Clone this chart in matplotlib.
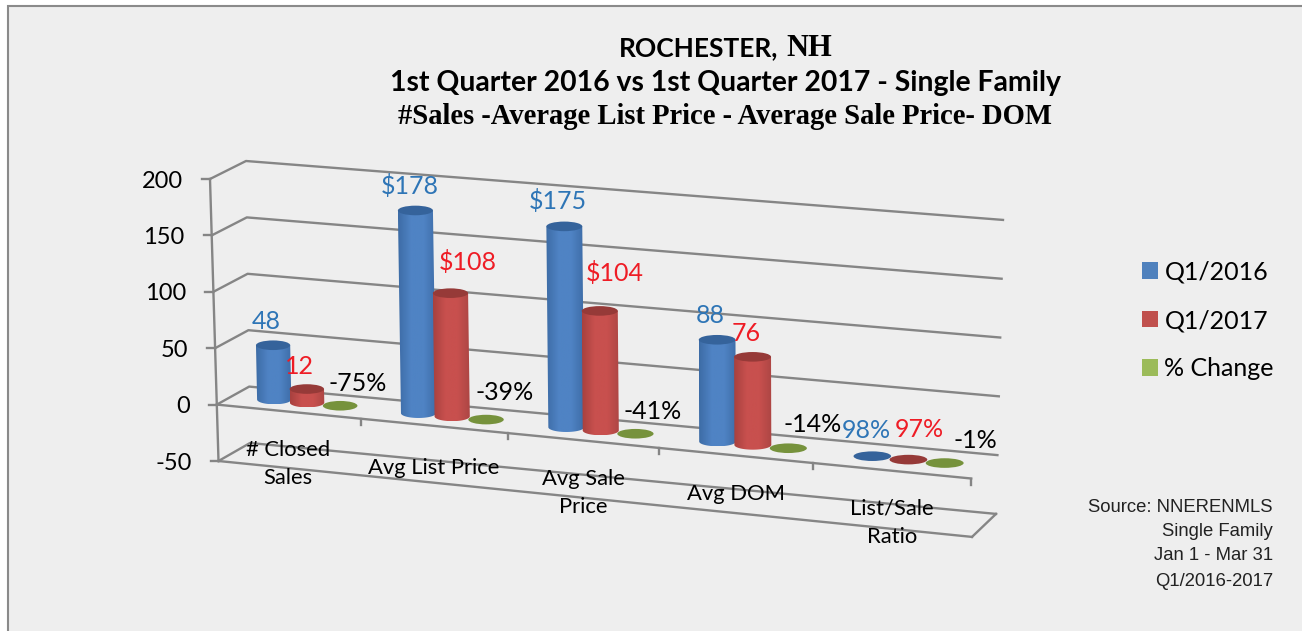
import numpy as np
import matplotlib
matplotlib.use("Agg")
import matplotlib.pyplot as plt
from matplotlib.patches import Ellipse, Patch, PathPatch, Rectangle
from matplotlib.path import Path
from matplotlib.colors import LinearSegmentedColormap

categories = ["# Closed\nSales", "Avg List Price", "Avg Sale\nPrice", "Avg DOM", "List/Sale\nRatio"]
series_names = ["Q1/2016", "Q1/2017", "% Change"]
q1_2016 = [48, 178, 175, 88, 0.98]
q1_2017 = [12, 108, 104, 76, 0.97]
pct_change = [-0.75, -0.39, -0.41, -0.14, -0.01]
labels_2016 = ["48", "$178", "$175", "88", "98%"]
labels_2017 = ["12", "$108", "$104", "76", "97%"]
labels_change = ["-75%", "-39%", "-41%", "-14%", "-1%"]
y_ticks = [-50, 0, 50, 100, 150, 200]

# label offsets from the top of each cylinder, in pixels
offsets_2016 = [(-7, -24), (-6, -24), (-6, -25), (-7, -24), (-6, -25)]
offsets_2017 = [(-7, -23), (17, -31), (15, -38), (-6, -23), (11, -29)]
offsets_change = [(18, -23), (19, -28), (17, -23), (24, -24), (31, -23)]
cat_label_dy = [52, 42, 53, 39, 52]

GRID = "#858585"
BLUE = ("#3d6ca6", "#4f83c4", "#4f83c4", "#3e6da8", "#35639b")
RED = ("#a8413f", "#c8504e", "#c8504e", "#ad4644", "#963a38")
GREEN = "#76923c"
BG = "#eeeeee"
TEXT_FONT = "Lato"

# the corners of the tilted plot box, in pixels
FL0, FL1 = np.array([218.5, 461.0]), np.array([210.0, 179.0])
FR0, FR1 = np.array([973.0, 537.0]), np.array([969.0, 245.0])
BL0, BL1 = np.array([250.0, 443.0]), np.array([246.0, 161.0])
BR0, BR1 = np.array([997.0, 514.0]), np.array([1004.0, 220.0])


def project(u, depth, value):
    # u is the category position 0-5, depth 0 front to 1 back
    t = (142.2 * u + 1.75 * u * u) / 755.75
    h = (value + 50) / 250.0
    front = (FL0 + (FR0 - FL0) * t) * (1 - h) + (FL1 + (FR1 - FL1) * t) * h
    back = (BL0 + (BR0 - BL0) * t) * (1 - h) + (BL1 + (BR1 - BL1) * t) * h
    return front + (back - front) * depth


def cylinder(ax, u, value, colors):
    bx, by = project(u, 0.5, 0)
    tx, ty = project(u, 0.5, value)
    left = project(u - 0.12, 0.5, 0)[0]
    right = project(u + 0.12, 0.5, 0)[0]
    rx = (right - left) / 2
    ry = 4.8
    if abs(value) < 3:
        ax.add_patch(Ellipse((bx, by), rx * 2, ry * 2, fc=colors[4], ec="none", zorder=4))
        return
    a = np.linspace(0, np.pi, 40)
    low_x = bx + rx * np.cos(a)
    low_y = by + ry * np.sin(a)
    xs = np.r_[low_x, tx - rx, tx + rx, low_x[0]]
    ys = np.r_[low_y, ty, ty, low_y[0]]
    body = PathPatch(Path(np.c_[xs, ys]), fc="none", ec="none", zorder=4)
    ax.add_patch(body)
    cmap = LinearSegmentedColormap.from_list("c", colors[:4])
    grad = np.linspace(0, 1, 64).reshape(1, -1)
    im = ax.imshow(grad, cmap=cmap, aspect="auto", zorder=4,
                   extent=[min(bx, tx) - rx, max(bx, tx) + rx, by + ry, ty])
    im.set_clip_path(body)
    ax.add_patch(Ellipse((tx, ty), rx * 2, ry * 2, fc=colors[4], ec="none", zorder=5))


fig = plt.figure(figsize=(13.02, 6.31), dpi=100, facecolor="white")
ax = fig.add_axes([0, 0, 1, 1])
ax.axis("off")

# the frame only shows at the top and on the left
ax.add_patch(Rectangle((7.5, 5.5), 1300, 640, fc=BG, ec="#8a8a8a", lw=1.5, zorder=0))

# walls and grid
for v in y_ticks:
    fl = project(0, 0, v)
    bl = project(0, 1, v)
    br = project(5, 1, v)
    ax.plot([fl[0], bl[0], br[0]], [fl[1], bl[1], br[1]], color=GRID, lw=1.7, zorder=1)
    ax.plot([fl[0] - 8, fl[0]], [fl[1], fl[1]], color=GRID, lw=1.7, zorder=1)
    ax.text(fl[0] - 27, fl[1] + 2, str(v), ha="right", va="center", fontsize=17,
            family=TEXT_FONT, color="black", zorder=6)
ax.plot(*zip(project(0, 0, -50), project(0, 0, 200)), color=GRID, lw=1.7, zorder=1)

# floor and base plane
for v in [0, -50]:
    a = project(0, 0, v)
    b = project(5, 0, v)
    ax.plot([a[0], b[0]], [a[1], b[1]], color=GRID, lw=1.7, zorder=2)
p = project(5, 0, -50)
q = project(5, 1, -50)
ax.plot([p[0], q[0]], [p[1], q[1]], color=GRID, lw=1.7, zorder=2)
for u in range(1, 6):
    a = project(u, 0, 0)
    ax.plot([a[0], a[0]], [a[1], a[1] + 6], color=GRID, lw=1.7, zorder=2)

# cylinders and labels
for i in range(len(categories)):
    u = i + 0.52
    groups = [(u - 0.23, q1_2016, labels_2016, offsets_2016, BLUE, "#2e75b6"),
              (u, q1_2017, labels_2017, offsets_2017, RED, "#ee1c25"),
              (u + 0.23, pct_change, labels_change, offsets_change, None, "black")]
    for pos, vals, labs, offs, cols, tc in groups:
        if cols is None:
            cols = (GREEN,) * 5
        cylinder(ax, pos, vals[i], cols)
        x, y = project(pos, 0.5, vals[i])
        ax.text(x + offs[i][0], y + offs[i][1], labs[i], color=tc, fontsize=18,
                family=TEXT_FONT, ha="center", va="center", zorder=7)
    x, y = project(i + 0.5, 0, 0)
    ax.text(x, y + cat_label_dy[i], categories[i], ha="center", va="center",
            fontsize=15.8, family=TEXT_FONT, linespacing=1.5, color="black", zorder=7)

# titles
ax.text(619, 56, "ROCHESTER,", fontsize=19, fontweight="bold", family=TEXT_FONT, va="baseline")
ax.text(786, 56, "NH", fontsize=22, fontweight="bold", family="Liberation Serif", va="baseline")
ax.text(725, 83, "1st Quarter 2016 vs 1st Quarter 2017 - Single Family", fontsize=20.4,
        fontweight="bold", family=TEXT_FONT, ha="center", va="center")
ax.text(725, 117, "#Sales -Average List Price - Average Sale Price- DOM", fontsize=20.6,
        fontweight="bold", family="Liberation Serif", ha="center", va="center")

# legend
handles = [Patch(fc="#4f81bd"), Patch(fc="#c0504d"), Patch(fc="#9bbb59")]
ax.legend(handles, series_names, loc="upper left", bbox_to_anchor=(1119, 238),
          bbox_transform=ax.transData, frameon=False,
          prop={"family": TEXT_FONT, "size": 18}, handlelength=0.64, handleheight=0.64,
          handletextpad=0.28, labelspacing=1.02)

# source note
for y, line in zip([507, 532, 556, 581],
                   ["Source: NNERENMLS", "Single Family", "Jan 1 - Mar 31", "Q1/2016-2017"]):
    ax.text(1273, y, line, ha="right", va="center", fontsize=13.3, family="Liberation Sans",
            color="#222222", zorder=7)

ax.set_xlim(0, 1302)
ax.set_ylim(631, 0)
fig.savefig("out.png", dpi=100)
